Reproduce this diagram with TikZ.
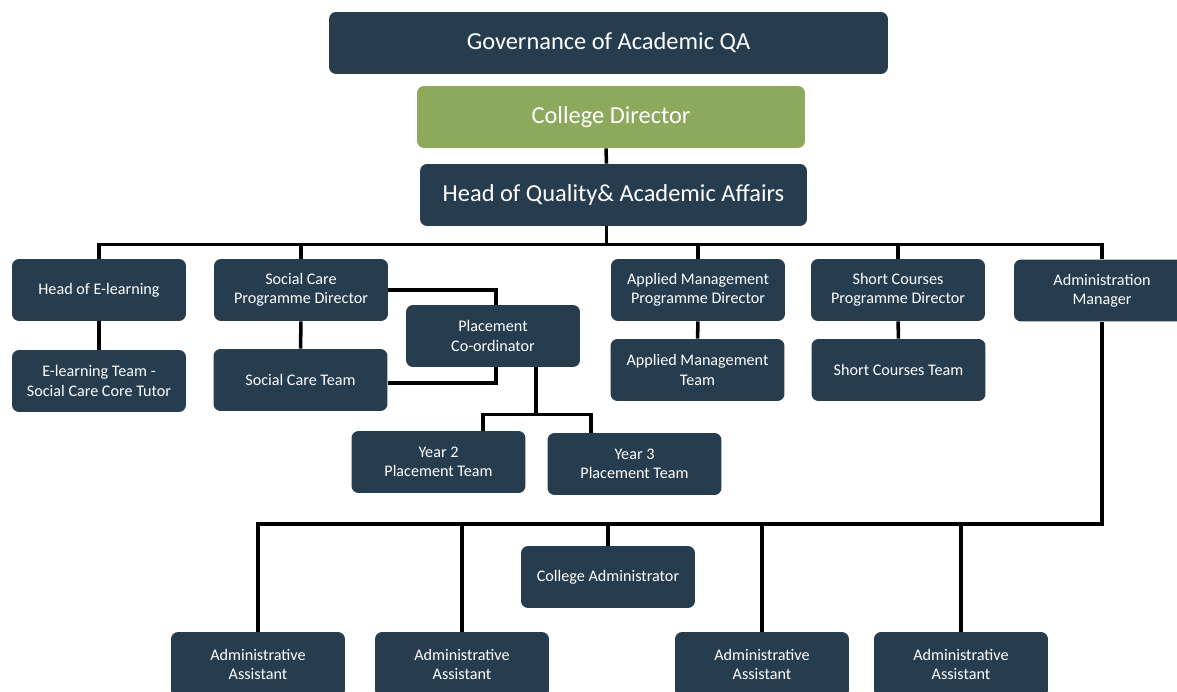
\documentclass[tikz,border=0pt]{standalone}
\usepackage{fontspec}
\setmainfont{Carlito}
\usetikzlibrary{positioning,backgrounds}
\definecolor{boxblue}{HTML}{263C4F}
\definecolor{boxgreen}{HTML}{8DA95B}
\tikzset{
  unit/.style={rectangle, rounded corners=4pt, fill=boxblue, text=white,
               minimum width=3.48cm, minimum height=1.24cm, inner sep=2pt,
               align=center, font=\fontsize{9.2}{11}\selectfont},
  bigunit/.style={unit, font=\fontsize{13.9}{16}\selectfont},
  link/.style={draw=black, line width=2pt}
}

\begin{document}
\begin{tikzpicture}[x=0.02cm, y=-0.02cm]
    \useasboundingbox (0,0) rectangle (1177,692);
    % top of the tree
    \node (governance) [bigunit, minimum width=11.18cm] at (608.5,43)
          {Governance of Academic QA};
    \node (director) [bigunit, fill=boxgreen, minimum width=7.76cm] at (611,117)
          {College Director};
    \node (head_quality) [bigunit, minimum width=7.74cm] at (613.5,195)
          {Head of Quality\& Academic Affairs};
    % second row
    \node (elearning_head) [unit] at (99,290) {Head of E-learning};
    \node (elearning_team) [unit] at (99,381)
          {E-learning Team -\\Social Care Core Tutor};
    \node (sc_director) [unit] at (301,290) {Social Care\\Programme\ Director};
    \node (sc_team) [unit] at (300.5,380) {Social Care Team};
    \node (placement) [unit] at (493,336) {Placement\\Co-ordinator};
    \node (year2) [unit] at (438.5,462) {Year 2\\Placement Team};
    \node (year3) [unit] at (634.5,464) {Year 3\\Placement Team};
    \node (am_director) [unit] at (698,290)
          {Applied Management\\Programme\ Director};
    \node (am_team) [unit] at (697.5,370) {Applied Management\\Team};
    \node (short_director) [unit] at (898,290)
          {Short\ Courses\\Programme\ Director};
    \node (short_team) [unit] at (898.5,370) {Short\ Courses Team};
    \node (admin_manager) [unit, minimum width=3.52cm] at (1102,290.5)
          {Administration\\Manager};
    % administration
    \node (college_admin) [unit] at (608,577) {College Administrator};
    \node (assistant1) [unit, minimum height=1.3cm] at (258,664.5)
          {Administrative\\Assistant};
    \node (assistant2) [unit, minimum height=1.3cm] at (462,664.5)
          {Administrative\\Assistant};
    \node (assistant3) [unit, minimum height=1.3cm] at (762,664.5)
          {Administrative\\Assistant};
    \node (assistant4) [unit, minimum height=1.3cm] at (961,664.5)
          {Administrative\\Assistant};

    \begin{scope}[on background layer]
    \draw [link] ([xshift=-0.1cm]director.south) -- ([xshift=-0.14cm]head_quality.north);
    \draw [link] ([xshift=-0.14cm]head_quality.south) -- ++(0,18) coordinate (top_bus);
    \foreach \n in {elearning_head, sc_director, am_director, short_director, admin_manager}
      \draw [link] (top_bus) -| (\n.north);
    \draw [link] (elearning_head) -- (elearning_team);
    \draw [link] (sc_director) -- (sc_team);
    \draw [link] (am_director) -- (am_team);
    \draw [link] (short_director) -- (short_team);
    % placement branch
    \draw [link] (sc_director.east) -| ([xshift=0.06cm]placement.north);
    \draw [link] ([yshift=-0.06cm]sc_team.east) -| ([xshift=0.06cm]placement.south);
    \draw [link] ([xshift=0.86cm]placement.south) -- ++(0,47) coordinate (year_bus);
    \draw [link] (year_bus) -| ([xshift=0.89cm]year2.north);
    \draw [link] (year_bus) -| ([xshift=-0.87cm]year3.north);
    % administration branch
    \coordinate (admin_bus) at (admin_manager.south |- 0,524);
    \draw [link] (admin_manager.south) -- (admin_bus) -| (assistant1.north);
    \foreach \n in {assistant2, college_admin, assistant3, assistant4}
      \draw [link] (admin_bus) -| (\n.north);
    \end{scope}
\end{tikzpicture}
\end{document}
